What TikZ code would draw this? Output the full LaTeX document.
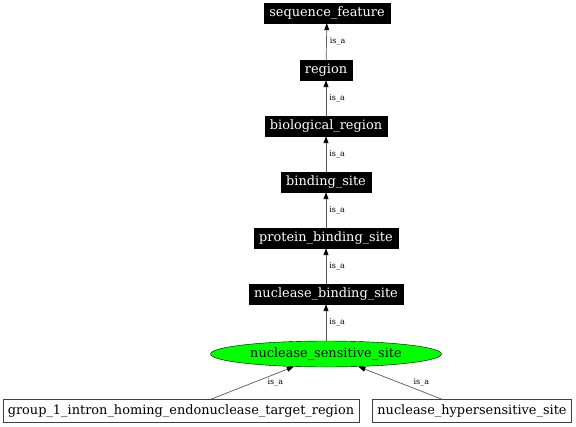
\documentclass[tikz,border=0pt]{standalone}
\usepackage{fontspec}
\setmainfont{DejaVu Serif}
\usetikzlibrary{shapes.geometric,arrows.meta}

\tikzset{
    term/.style={draw=black, fill=black, text=white, inner xsep=5pt, inner ysep=0pt,
        minimum height=20pt, font=\fontsize{12.9}{14}\selectfont},
    leaf/.style={draw=black!75, fill=white, inner xsep=5pt, inner ysep=0pt,
        minimum height=23pt, font=\fontsize{12.9}{14}\selectfont},
    focus/.style={ellipse, draw=black, fill=green, inner sep=0pt,
        minimum width=231pt, minimum height=26pt, font=\fontsize{12.9}{14}\selectfont},
    isa/.style={draw=black!65, line width=0.7pt,
        -{Triangle[width=5pt,length=7pt,color=black]}},
    lbl/.style={font=\fontsize{8}{9}\selectfont, inner sep=1pt}
}

\begin{document}
\begin{tikzpicture}[x=1pt, y=-1pt]
    \useasboundingbox (0,0) rectangle (576,426);

    \node[term] (feat)    at (327,13)  {sequence\_feature};
    \node[term] (region)  at (326,70)  {region};
    \node[term] (bioreg)  at (326,126) {biological\_region};
    \node[term] (bind)    at (326,182) {binding\_site};
    \node[term] (prot)    at (326,238) {protein\_binding\_site};
    \node[term] (nucbind) at (326,294) {nuclease\_binding\_site};
    \node[focus] (nucsens) at (326,354) {nuclease\_sensitive\_site};

    \node[leaf] (group) at (181,411) {group\_1\_intron\_homing\_endonuclease\_target\_region};
    \node[leaf] (hyper) at (472,411) {nuclease\_hypersensitive\_site};

    \draw[isa] (region)  -- (feat)    node[lbl, midway, right=2pt] {is\_a};
    \draw[isa] (bioreg)  -- (region)  node[lbl, midway, right=2pt] {is\_a};
    \draw[isa] (bind)    -- (bioreg)  node[lbl, midway, right=2pt] {is\_a};
    \draw[isa] (prot)    -- (bind)    node[lbl, midway, right=2pt] {is\_a};
    \draw[isa] (nucbind) -- (prot)    node[lbl, midway, right=2pt] {is\_a};
    \draw[isa] (nucsens) -- (nucbind) node[lbl, midway, right=2pt] {is\_a};

    \draw[isa] (group) -- (nucsens) node[lbl, midway, right=14pt] {is\_a};
    \draw[isa] (hyper) -- (nucsens) node[lbl, midway, right=12pt] {is\_a};
\end{tikzpicture}
\end{document}
